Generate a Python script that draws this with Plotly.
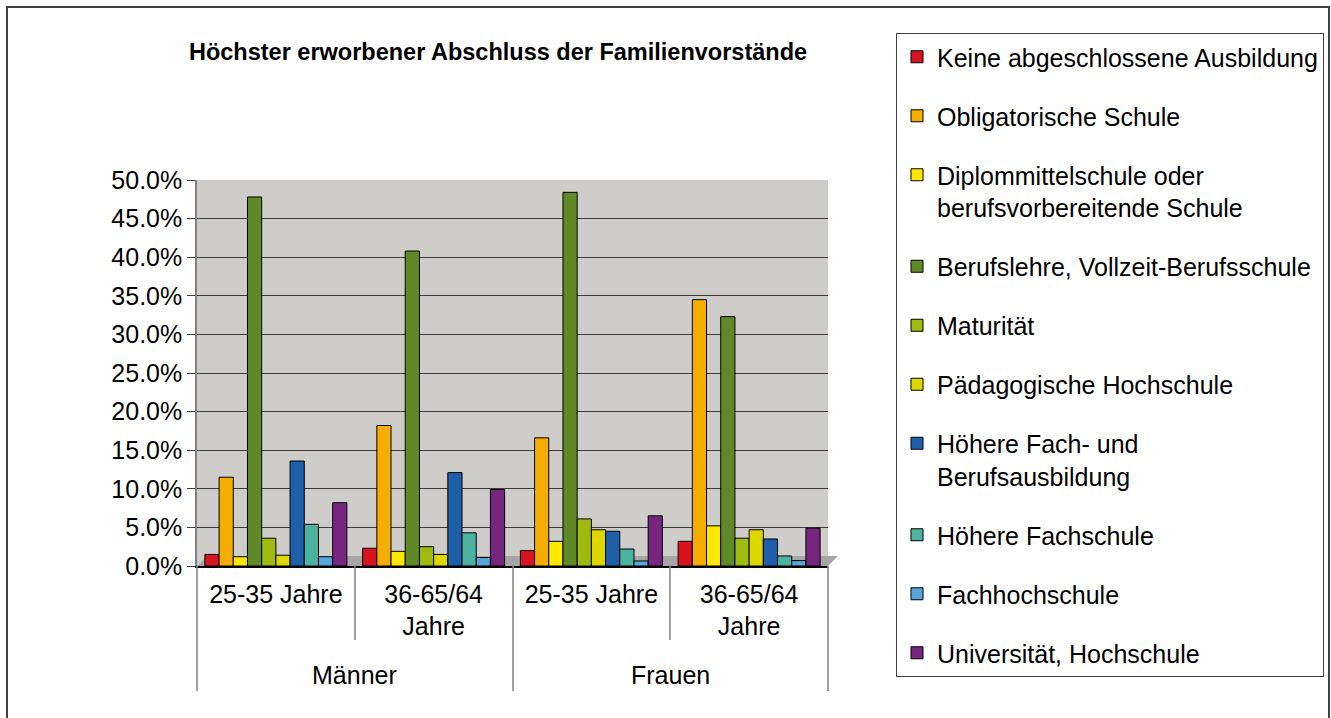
import plotly.graph_objects as go

# ---- data ----
groups = ["Männer", "Frauen"]
ages = ["25-35 Jahre", "36-65/64<br>Jahre", "25-35 Jahre", "36-65/64<br>Jahre"]
positions = [0, 1, 2, 3]
group_centers = [0.5, 2.5]

series_names = [
    "Keine abgeschlossene Ausbildung",
    "Obligatorische Schule",
    "Diplommittelschule oder<br>berufsvorbereitende Schule",
    "Berufslehre, Vollzeit-Berufsschule",
    "Maturität",
    "Pädagogische Hochschule",
    "Höhere Fach- und<br>Berufsausbildung",
    "Höhere Fachschule",
    "Fachhochschule",
    "Universität, Hochschule",
]

keine = [0.015, 0.023, 0.020, 0.032]
obligatorisch = [0.115, 0.182, 0.166, 0.345]
diplom = [0.012, 0.019, 0.032, 0.052]
berufslehre = [0.478, 0.408, 0.484, 0.323]
maturitaet = [0.036, 0.025, 0.061, 0.036]
paedagogisch = [0.014, 0.015, 0.047, 0.047]
hoehere_fach_beruf = [0.136, 0.121, 0.045, 0.035]
hoehere_fachschule = [0.054, 0.043, 0.022, 0.013]
fachhochschule = [0.012, 0.011, 0.0065, 0.007]
universitaet = [0.082, 0.099, 0.065, 0.049]

series_values = [keine, obligatorisch, diplom, berufslehre, maturitaet,
                 paedagogisch, hoehere_fach_beruf, hoehere_fachschule,
                 fachhochschule, universitaet]

colors = ["#D7141F", "#F5AE00", "#FFE800", "#5F8A27", "#9FBB11",
          "#DDD600", "#1F5EA8", "#4BB3A0", "#56A6DB", "#76267F"]

title_text = "Höchster erworbener Abschluss der Familienvorstände"

# ---- layout geometry (pixels) ----
W, H = 1331, 718
L, R = 197, 828
T, B = 180, 566
pw, ph = R - L, B - T


def px(x):
    return (x - L) / pw


def py(y):
    return (B - y) / ph


fig = go.Figure()
for i, (name, vals, col) in enumerate(zip(series_names, series_values, colors)):
    fig.add_trace(go.Bar(
        x=positions, y=vals, name=name,
        marker=dict(color=col, line=dict(color="#000000", width=1)),
        legendgroup=f"g{i}",
    ))

font_family = "Arial, Liberation Sans, sans-serif"

shapes = []
# outer chart border
shapes.append(dict(type="rect", xref="paper", yref="paper",
                   x0=px(7), x1=px(1329), y0=py(730), y1=py(7),
                   line=dict(color="#404040", width=2), fillcolor="rgba(0,0,0,0)"))
# floor
shapes.append(dict(type="path", xref="paper", yref="paper", layer="below",
                   path=f"M {px(197)} {py(566)} L {px(828)} {py(566)} L {px(838)} {py(556)} L {px(208)} {py(556)} Z",
                   fillcolor="#A6A6A6", line=dict(width=0)))
# category dividers
for xx, yb in [(197, 691), (513, 691), (828, 691), (355, 640), (670, 640)]:
    shapes.append(dict(type="line", xref="paper", yref="paper",
                       x0=px(xx), x1=px(xx), y0=py(566), y1=py(yb),
                       line=dict(color="#808080", width=1.5)))

annotations = []
for gx, gname in zip(group_centers, groups):
    annotations.append(dict(x=gx, xref="x", y=py(675), yref="paper",
                            text=gname, showarrow=False, xanchor="center", yanchor="middle",
                            font=dict(family=font_family, size=25, color="#000000")))

fig.update_layout(
    width=W, height=H, autosize=False,
    margin=dict(l=L, r=W - R, t=T, b=H - B, pad=0, autoexpand=False),
    paper_bgcolor="#FFFFFF",
    plot_bgcolor="#CFCDC9",
    barmode="group", bargap=0.1, bargroupgap=0.0,
    font=dict(family=font_family, size=25, color="#000000"),
    title=dict(text=f"<b>{title_text}</b>", xref="paper", x=px(498), xanchor="center",
               yref="container", y=1 - 52 / H, yanchor="middle",
               font=dict(family=font_family, size=23.5, color="#000000")),
    legend=dict(x=px(896), xanchor="left", y=py(33), yanchor="top",
                bgcolor="#FFFFFF", bordercolor="#404040", borderwidth=1,
                font=dict(family=font_family, size=25, color="#000000"),
                tracegroupgap=23.5, traceorder="grouped", valign="top",
                maxheight=700),
    shapes=shapes,
    annotations=annotations,
    showlegend=True,
)

fig.update_yaxes(range=[0, 0.5], dtick=0.05, tickformat=".1%",
                 showgrid=True, gridcolor="#3A3A3A", gridwidth=1,
                 showline=True, linecolor="#808080", linewidth=1.5,
                 ticks="outside", ticklen=8, tickcolor="#404040",
                 zeroline=False, tickfont=dict(size=25))
fig.update_xaxes(range=[-0.5, 3.5], tickmode="array", tickvals=positions, ticktext=ages,
                 showline=True, linecolor="#000000", linewidth=1.5,
                 showgrid=False, zeroline=False, tickfont=dict(size=25), ticks="",
                 ticklabelstandoff=5)

fig.write_html("out.html", config={"displayModeBar": False},
               post_script="document.body.style.margin='0px';")
